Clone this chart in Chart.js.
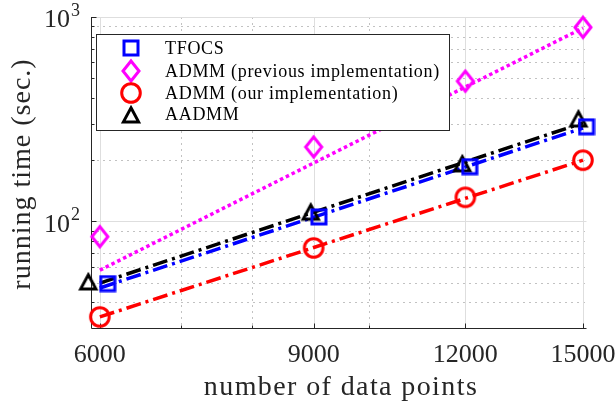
<!DOCTYPE html>
<html><head><meta charset="utf-8">
<script src="https://cdn.jsdelivr.net/npm/chart.js@4"></script>
<style>html,body{margin:0;padding:0;background:#fff}canvas{display:block}</style>
</head><body>
<canvas id="c" width="616" height="401"></canvas>
<script>
// ---- data ----
const seriesNames = ['TFOCS', 'ADMM (previous implementation)', 'ADMM (our implementation)', 'AADMM'];
const tfocsX = [6090, 9090, 12100, 15100];
const tfocsY = [49.5, 105, 185, 290];
const admmPrevX = [6000, 9000, 12000, 15000];
const admmPrevY = [84, 231, 485, 890];
const admmOursX = [6000, 9000, 12000, 15000];
const admmOursY = [34, 74, 131, 199];
const aadmmX = [5870, 8950, 11930, 14870];
const aadmmY = [51, 112, 193, 320];
const fitX = [6000, 15000];
const tfocsFit = [47.1, 286];
const admmPrevFit = [57.6, 883];
const admmOursFit = [34.0, 199];
const aadmmFit = [49.8, 303];
const xTicks = [6000, 9000, 12000, 15000];
const xTickLabels = ['6000', '9000', '12000', '15000'];
const xMinor = [7000, 8000, 10000];
const yTicks = [100, 1000];
const yTickExp = ['2', '3'];
const yMinor = [40, 50, 60, 70, 80, 90, 200, 300, 400, 500, 600, 700, 800, 900];
const xTitle = 'number of data points';
const yTitle = 'running time (sec.)';

const FONT = "'Liberation Serif', 'DejaVu Serif', serif";
const BLUE = '#0000ff', MAG = '#ff00ff', RED = '#ff0000', BLK = '#000000';

function pts(xs, ys) { return xs.map((v, i) => ({x: v, y: ys[i]})); }

function mk(w, h, draw) {
  const c = document.createElement('canvas');
  c.width = w; c.height = h;
  const g = c.getContext('2d');
  g.lineWidth = 3; g.lineJoin = 'miter';
  draw(g);
  return c;
}
const sqImg = mk(18, 18, g => { g.strokeStyle = BLUE; g.strokeRect(2, 2, 14, 14); });
const diaImg = mk(30, 34, g => {
  g.strokeStyle = MAG; g.beginPath();
  g.moveTo(15, 7); g.lineTo(23, 17); g.lineTo(15, 27); g.lineTo(7, 17); g.closePath(); g.stroke();
});
const cirImg = mk(26, 26, g => { g.strokeStyle = RED; g.beginPath(); g.arc(13, 13, 9.3, 0, Math.PI * 2); g.stroke(); });
const triImg = mk(28, 28, g => {
  g.strokeStyle = BLK; g.beginPath();
  g.moveTo(14, 14 - 6.2); g.lineTo(14 + 7.6, 14 + 7.9); g.lineTo(14 - 7.6, 14 + 7.9); g.closePath(); g.stroke();
});
const markerImgs = [sqImg, diaImg, cirImg, triImg];

function markerDs(label, data, img, order) {
  return {label, data, showLine: false, pointStyle: img, pointRadius: 11, pointBorderWidth: 0,
    pointHoverRadius: 11, clip: false, order};
}
function fitDs(data, color, dash, order) {
  return {label: '', data, showLine: true, borderColor: color, borderWidth: 3.5, borderDash: dash,
    pointRadius: 0, pointHoverRadius: 0, fill: false, order, borderCapStyle: 'butt'};
}

const frame = {
  id: 'frame',
  beforeDatasetsDraw(chart) {
    const {ctx, chartArea: a, scales: {x, y}} = chart;
    const seg = (x1, y1, x2, y2) => { ctx.beginPath(); ctx.moveTo(x1, y1); ctx.lineTo(x2, y2); ctx.stroke(); };
    ctx.save();
    ctx.lineWidth = 1;
    // minor grid (dotted)
    ctx.strokeStyle = '#c2c2c2'; ctx.setLineDash([2, 4]);
    xMinor.forEach(v => { const p = Math.round(x.getPixelForValue(v)) + 0.5; seg(p, a.top, p, a.bottom); });
    yMinor.forEach(v => { const p = Math.round(y.getPixelForValue(v)) + 0.5; seg(a.left, p, a.right, p); });
    // major grid (solid)
    ctx.setLineDash([]); ctx.strokeStyle = '#dedede';
    xTicks.forEach(v => { const p = Math.round(x.getPixelForValue(v)) + 0.5; seg(p, a.top, p, a.bottom); });
    yTicks.forEach(v => { const p = Math.round(y.getPixelForValue(v)) + 0.5; seg(a.left, p, a.right, p); });
    // axes
    ctx.strokeStyle = '#262626';
    const L = Math.round(a.left) + 0.5, B = Math.round(a.bottom) + 0.5;
    seg(L, a.top, L, B); seg(L, B, a.right, B);
    xTicks.forEach(v => { const p = Math.round(x.getPixelForValue(v)) + 0.5; seg(p, B, p, B - 5); });
    xMinor.forEach(v => { const p = Math.round(x.getPixelForValue(v)) + 0.5; seg(p, B, p, B - 3); });
    yTicks.forEach(v => { const p = Math.round(y.getPixelForValue(v)) + 0.5; seg(L, p, L + 5, p); });
    yMinor.forEach(v => { const p = Math.round(y.getPixelForValue(v)) + 0.5; seg(L, p, L + 3, p); });
    // tick labels
    ctx.fillStyle = '#262626';
    ctx.textBaseline = 'middle';
    ctx.font = '26px ' + FONT; ctx.textAlign = 'center';
    xTicks.forEach((v, i) => ctx.fillText(xTickLabels[i], x.getPixelForValue(v), 355));
    yTicks.forEach((v, i) => {
      const p = y.getPixelForValue(v);
      ctx.font = '18px ' + FONT; ctx.textAlign = 'right';
      const sw = ctx.measureText(yTickExp[i]).width;
      ctx.fillText(yTickExp[i], 80, p - 5.5);
      ctx.font = '26px ' + FONT;
      ctx.fillText('10', 80 - sw - 1, p + 3.5);
    });
    // titles
    ctx.font = '28px ' + FONT;
    ctx.letterSpacing = '1.4px';
    ctx.textAlign = 'center'; ctx.textBaseline = 'alphabetic';
    ctx.fillText(xTitle, 341, 395);
    ctx.letterSpacing = '1px';
    ctx.translate(30, 174); ctx.rotate(-Math.PI / 2);
    ctx.fillText(yTitle, 0, 0);
    ctx.restore();
  },
  afterDatasetsDraw(chart) {
    const {ctx} = chart;
    ctx.save();
    ctx.fillStyle = '#ffffff'; ctx.strokeStyle = '#262626'; ctx.lineWidth = 1;
    ctx.fillRect(96.5, 34.5, 353, 96); ctx.strokeRect(96.5, 34.5, 353, 96);
    const rows = [48, 71, 93, 114];
    ctx.font = '18px ' + FONT; ctx.letterSpacing = '0.7px';
    ctx.fillStyle = '#000'; ctx.textAlign = 'left'; ctx.textBaseline = 'middle';
    seriesNames.forEach((n, i) => {
      const img = markerImgs[i];
      ctx.drawImage(img, 131 - img.width / 2, rows[i] - img.height / 2);
      ctx.fillText(n, 165, rows[i] + 1);
    });
    ctx.restore();
  }
};

new Chart(document.getElementById('c'), {
  type: 'scatter',
  data: {
    datasets: [
      markerDs(seriesNames[0], pts(tfocsX, tfocsY), sqImg, 1),
      markerDs(seriesNames[1], pts(admmPrevX, admmPrevY), diaImg, 2),
      markerDs(seriesNames[2], pts(admmOursX, admmOursY), cirImg, 3),
      markerDs(seriesNames[3], pts(aadmmX, aadmmY), triImg, 4),
      fitDs(pts(fitX, tfocsFit), BLUE, [15, 5, 3, 5], 8),
      fitDs(pts(fitX, admmPrevFit), MAG, [3.5, 3], 9),
      fitDs(pts(fitX, admmOursFit), RED, [15, 5, 3, 5], 6),
      fitDs(pts(fitX, aadmmFit), BLK, [15, 5, 3, 5], 7)
    ]
  },
  options: {
    responsive: false, animation: false, events: [],
    layout: {padding: {left: 91, right: 29.5, top: 17, bottom: 73}},
    plugins: {legend: {display: false}, tooltip: {enabled: false}},
    scales: {
      x: {type: 'logarithmic', min: 5900, max: 15100, display: false},
      y: {type: 'logarithmic', min: 30, max: 1000, display: false}
    }
  },
  plugins: [frame]
});
</script>
</body></html>
